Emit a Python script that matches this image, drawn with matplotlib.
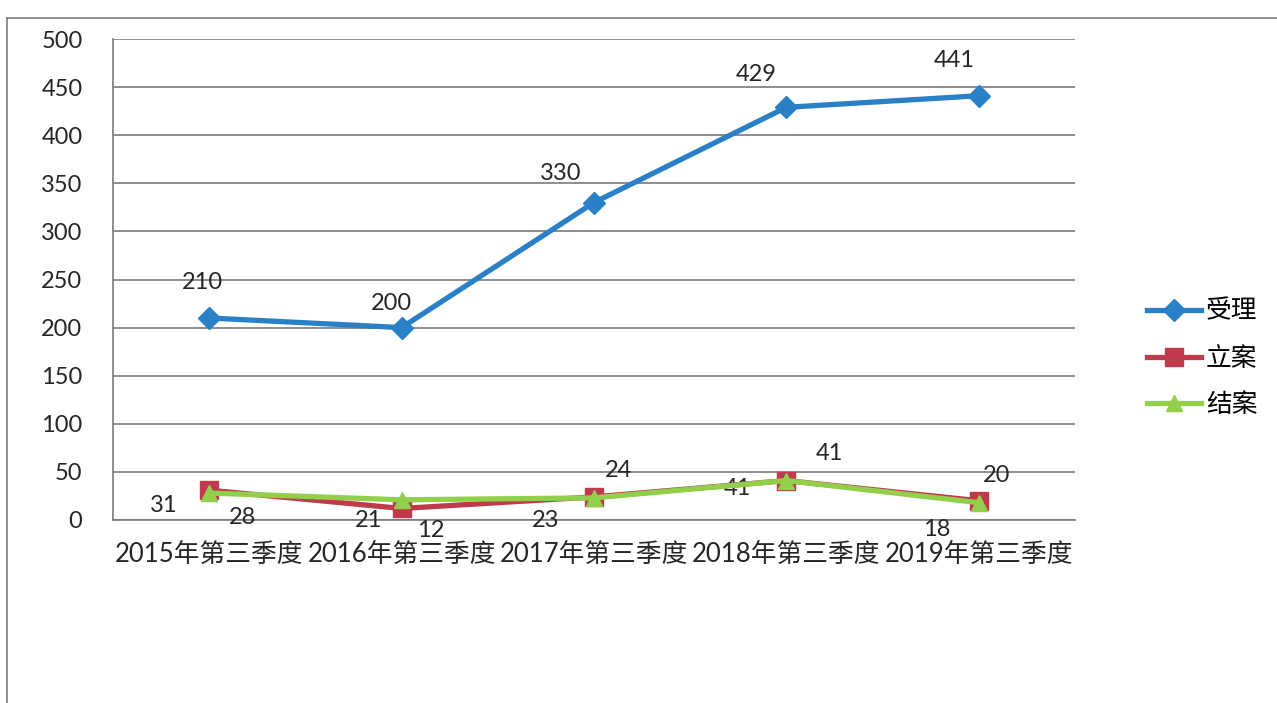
import matplotlib
matplotlib.use("Agg")
import matplotlib.pyplot as plt
from matplotlib.patches import Rectangle

plt.rcParams['font.family'] = ['Lato', 'Noto Sans CJK SC', 'DejaVu Sans']

# data
categories = ["2015年第三季度", "2016年第三季度", "2017年第三季度",
              "2018年第三季度", "2019年第三季度"]
shouli = [210, 200, 330, 429, 441]
lian = [31, 12, 24, 41, 20]
jiean = [28, 21, 23, 41, 18]
yticks = [0, 50, 100, 150, 200, 250, 300, 350, 400, 450, 500]

# label offsets in pixels (dx, dy)
off_shouli = [(-7, 35), (-10, 24), (-33, 29), (-30, 33), (-25, 35)]
off_lian = [(-45, -15), (29, -22), (25, 26), (43, 27), (18, 25)]
off_jiean = [(33, -24), (-33, -21), (-48, -23), (-49, -8), (-42, -27)]

c_blue = "#2a80c6"
c_red = "#be3a4c"
c_green = "#92d04c"
fs = 17

W, H = 1277, 703
fig = plt.figure(figsize=(W / 100, H / 100), dpi=100)

# outer chart frame
fig.add_artist(Rectangle((7 / W, -0.05), 1.2, 1 - 18 / H + 0.05,
                         transform=fig.transFigure, fill=False,
                         edgecolor="#7a7a7a", linewidth=1.2))

ax = fig.add_axes([113 / W, 1 - 520 / H, (1075 - 113) / W, (520 - 39) / H])
x = list(range(len(categories)))

ax.plot(x, shouli, color=c_blue, lw=3.8, marker="D", ms=11, label="受理", zorder=3)
ax.plot(x, lian, color=c_red, lw=3.8, marker="s", ms=13, label="立案", zorder=3)
ax.plot(x, jiean, color=c_green, lw=3.8, marker="^", ms=12, label="结案", zorder=4)

for vals, offs in ((shouli, off_shouli), (lian, off_lian), (jiean, off_jiean)):
    for xi, v, (dx, dy) in zip(x, vals, offs):
        ax.annotate(str(v), (xi, v), xytext=(dx, dy), textcoords="offset pixels",
                    ha="center", va="center", fontsize=fs, color="#262626")

ax.set_xlim(-0.5, len(categories) - 0.5)
ax.set_ylim(0, 500)
ax.set_yticks(yticks)
ax.set_xticks(x)
ax.set_xticklabels(categories, fontsize=18.5)
ax.tick_params(axis="both", length=0, labelsize=fs, colors="#262626")
ax.tick_params(axis="x", labelsize=18.5, pad=16)
ax.tick_params(axis="y", pad=22)
ax.grid(axis="y", color="#7a7a7a", lw=1.2)
ax.set_axisbelow(True)
for s in ("top", "right"):
    ax.spines[s].set_visible(False)
ax.spines["left"].set_color("#7a7a7a")
ax.spines["bottom"].set_color("#7a7a7a")
ax.spines["left"].set_linewidth(1.2)
ax.spines["bottom"].set_linewidth(1.2)

fig.legend(loc="center left", bbox_to_anchor=(1147 / W, 1 - 358 / H),
           frameon=False, fontsize=18.5, handlelength=2.1, labelspacing=0.85,
           handletextpad=0.2, borderpad=0, borderaxespad=0)

fig.savefig("out.png", dpi=100)
